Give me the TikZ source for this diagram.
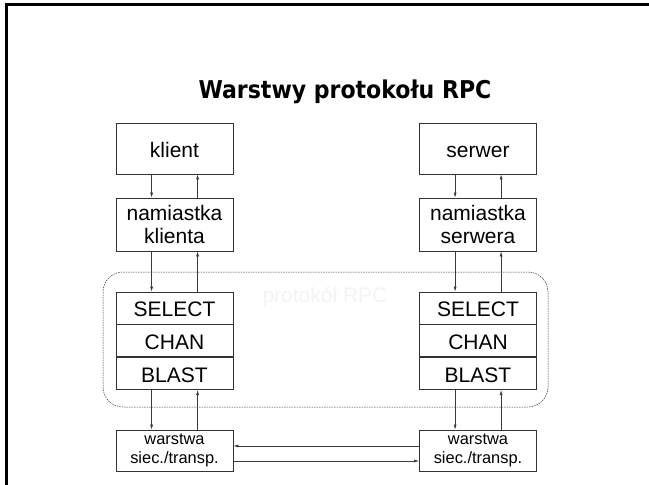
\documentclass[tikz,border=0pt]{standalone}
\usepackage{fontspec}
\setmainfont{Liberation Sans}
\newfontfamily\titlefont{DejaVu Sans Condensed}
\usepackage{xcolor}
\usetikzlibrary{arrows.meta,positioning}
\definecolor{frame}{HTML}{000000}
\definecolor{edge}{HTML}{333333}
\definecolor{wire}{HTML}{3A3A3A}
\definecolor{ghost}{HTML}{F4F4F4}
\tikzset{
  box/.style={draw=edge, line width=0.8pt, minimum width=117pt, inner sep=0pt,
    align=center, font=\fontsize{21}{23}\selectfont},
  oneline/.style={text height=19pt, text depth=2pt},
  layer/.style={box, oneline, minimum height=32pt},
  netbox/.style={box, minimum height=41pt, font=\fontsize{16.4}{19}\selectfont},
  arr/.style={draw=wire, line width=0.6pt, -{Latex[length=5pt,width=3pt]}},
  cloud/.style={draw=edge, line width=0.5pt, dash pattern=on 1.5pt off 1pt, rounded corners=20pt}
}

\begin{document}
\begin{tikzpicture}[x=1pt,y=-1pt]
  \useasboundingbox (0,0) rectangle (649,485);
  \fill[white] (0,0) rectangle (649,485);
  \draw[frame, line width=2.5pt] (6.5,490) -- (6.5,4.5) -- (655,4.5);

  \node[anchor=base] (title) at (345,98.5)
    {\titlefont\bfseries\fontsize{24.5}{28}\selectfont Warstwy protokołu RPC};

  % protokol RPC area
  \draw[cloud] (103,272) rectangle (548,407);
  \node[text=ghost, font=\fontsize{21}{23}\selectfont] (rpc) at (325,297) {protokół RPC};

  % client side
  \node[box, oneline, minimum height=51pt] (kl) at (174.5,148.5) {klient};
  \node[box, minimum height=53pt] (nk) at (174.5,224.5) {namiastka\\klienta};
  \node[layer] (ks) at (174.5,308) {SELECT};
  \node[layer, below=0pt of ks] (kc) {CHAN};
  \node[layer, below=0pt of kc] (kb) {BLAST};
  \node[netbox] (kn) at (174.5,450.5) {warstwa\\siec./transp.};

  % server side
  \node[box, oneline, minimum height=51pt] (sv) at (478,148.5) {serwer};
  \node[box, minimum height=53pt] (ns) at (478,224.5) {namiastka\\serwera};
  \node[layer] (ss) at (478,308) {SELECT};
  \node[layer, below=0pt of ss] (sc) {CHAN};
  \node[layer, below=0pt of sc] (sb) {BLAST};
  \node[netbox] (sn) at (478,450.5) {warstwa\\siec./transp.};

  % calls down, replies up
  \foreach \a/\b in {kl/nk,nk/ks,kb/kn,sv/ns,ns/ss,sb/sn} {
    \draw[arr] ([xshift=36pt]\a.south west) -- ([xshift=36pt]\b.north west);
    \draw[arr] ([xshift=82pt]\b.north west) -- ([xshift=82pt]\a.south west);
  }

  % network
  \draw[arr] ([yshift=4.5pt]sn.west) -- ([yshift=4.5pt]kn.east);
  \draw[arr] ([yshift=-10.5pt]kn.east) -- ([yshift=-10.5pt]sn.west);
\end{tikzpicture}
\end{document}
